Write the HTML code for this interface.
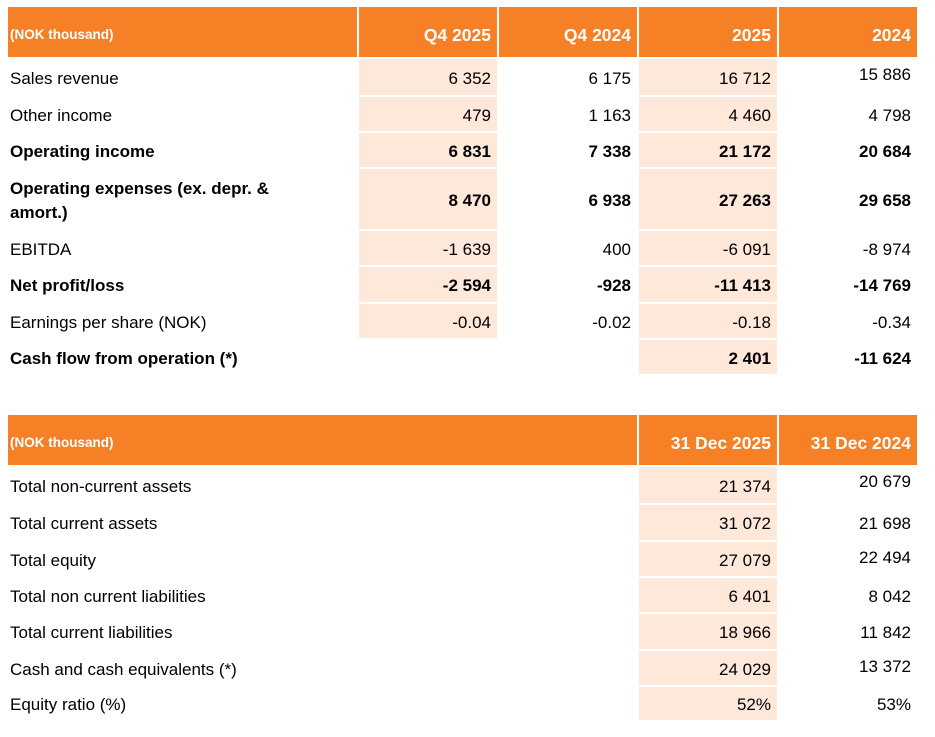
<!DOCTYPE html>
<html><head><meta charset="utf-8"><style>
body{margin:0;width:935px;height:737px;background:#fff;position:relative;font-family:"Liberation Sans",Arial,sans-serif;color:#000;overflow:hidden}
.c{position:absolute;box-sizing:border-box;display:flex;align-items:center;font-size:17px;line-height:20px;padding-top:3px}
.h{background:#F58025;color:#fff;font-weight:bold;font-size:17.5px;padding-top:6px}
.s{background:#FDE8DA}
.r{justify-content:flex-end;padding-right:6px}
.l{padding-left:2px}
.b{font-weight:bold}
</style></head><body>
<div class="c h l" style="left:8px;top:7px;width:349px;height:50px;font-size:13.5px">(NOK thousand)</div>
<div class="c h r" style="left:359px;top:7px;width:138px;height:50px">Q4 2025</div>
<div class="c h r" style="left:499px;top:7px;width:138px;height:50px">Q4 2024</div>
<div class="c h r" style="left:639px;top:7px;width:138px;height:50px">2025</div>
<div class="c h r" style="left:779px;top:7px;width:138px;height:50px">2024</div>

<div class="c l" style="left:8px;top:59px;width:349px;height:36px">Sales revenue</div>
<div class="c s r" style="left:359px;top:59px;width:138px;height:36px">6 352</div>
<div class="c r" style="left:499px;top:59px;width:138px;height:36px">6 175</div>
<div class="c s r" style="left:639px;top:59px;width:138px;height:36px">16 712</div>
<div class="c r" style="left:779px;top:55px;width:138px;height:36px">15 886</div>

<div class="c l" style="left:8px;top:97px;width:349px;height:34px">Other income</div>
<div class="c s r" style="left:359px;top:97px;width:138px;height:34px">479</div>
<div class="c r" style="left:499px;top:97px;width:138px;height:34px">1 163</div>
<div class="c s r" style="left:639px;top:97px;width:138px;height:34px">4 460</div>
<div class="c r" style="left:779px;top:97px;width:138px;height:34px">4 798</div>

<div class="c l b" style="left:8px;top:133px;width:349px;height:34px">Operating income</div>
<div class="c s r b" style="left:359px;top:133px;width:138px;height:34px">6 831</div>
<div class="c r b" style="left:499px;top:133px;width:138px;height:34px">7 338</div>
<div class="c s r b" style="left:639px;top:133px;width:138px;height:34px">21 172</div>
<div class="c r b" style="left:779px;top:133px;width:138px;height:34px">20 684</div>

<div class="c l b" style="left:8px;top:169px;width:320px;height:60px;line-height:24px">Operating expenses (ex. depr. &amp; amort.)</div>
<div class="c s r b" style="left:359px;top:169px;width:138px;height:60px">8 470</div>
<div class="c r b" style="left:499px;top:169px;width:138px;height:60px">6 938</div>
<div class="c s r b" style="left:639px;top:169px;width:138px;height:60px">27 263</div>
<div class="c r b" style="left:779px;top:169px;width:138px;height:60px">29 658</div>

<div class="c l" style="left:8px;top:231px;width:349px;height:34px">EBITDA</div>
<div class="c s r" style="left:359px;top:231px;width:138px;height:34px">-1 639</div>
<div class="c r" style="left:499px;top:231px;width:138px;height:34px">400</div>
<div class="c s r" style="left:639px;top:231px;width:138px;height:34px">-6 091</div>
<div class="c r" style="left:779px;top:231px;width:138px;height:34px">-8 974</div>

<div class="c l b" style="left:8px;top:267px;width:349px;height:35px">Net profit/loss</div>
<div class="c s r b" style="left:359px;top:267px;width:138px;height:35px">-2 594</div>
<div class="c r b" style="left:499px;top:267px;width:138px;height:35px">-928</div>
<div class="c s r b" style="left:639px;top:267px;width:138px;height:35px">-11 413</div>
<div class="c r b" style="left:779px;top:267px;width:138px;height:35px">-14 769</div>

<div class="c l" style="left:8px;top:304px;width:349px;height:34px">Earnings per share (NOK)</div>
<div class="c s r" style="left:359px;top:304px;width:138px;height:34px">-0.04</div>
<div class="c r" style="left:499px;top:304px;width:138px;height:34px">-0.02</div>
<div class="c s r" style="left:639px;top:304px;width:138px;height:34px">-0.18</div>
<div class="c r" style="left:779px;top:304px;width:138px;height:34px">-0.34</div>

<div class="c l b" style="left:8px;top:340px;width:349px;height:34px">Cash flow from operation (*)</div>
<div class="c s r b" style="left:639px;top:340px;width:138px;height:34px">2 401</div>
<div class="c r b" style="left:779px;top:340px;width:138px;height:34px">-11 624</div>

<div class="c h l" style="left:8px;top:415px;width:629px;height:50px;font-size:13.5px">(NOK thousand)</div>
<div class="c h r" style="left:639px;top:415px;width:138px;height:50px">31 Dec 2025</div>
<div class="c h r" style="left:779px;top:415px;width:138px;height:50px">31 Dec 2024</div>

<div class="c l" style="left:8px;top:467px;width:629px;height:36px">Total non-current assets</div>
<div class="c s r" style="left:639px;top:467px;width:138px;height:36px">21 374</div>
<div class="c r" style="left:779px;top:462px;width:138px;height:36px">20 679</div>

<div class="c l" style="left:8px;top:505px;width:629px;height:35px">Total current assets</div>
<div class="c s r" style="left:639px;top:505px;width:138px;height:35px">31 072</div>
<div class="c r" style="left:779px;top:505px;width:138px;height:35px">21 698</div>

<div class="c l" style="left:8px;top:542px;width:629px;height:34px">Total equity</div>
<div class="c s r" style="left:639px;top:542px;width:138px;height:34px">27 079</div>
<div class="c r" style="left:779px;top:539px;width:138px;height:34px">22 494</div>

<div class="c l" style="left:8px;top:578px;width:629px;height:34px">Total non current liabilities</div>
<div class="c s r" style="left:639px;top:578px;width:138px;height:34px">6 401</div>
<div class="c r" style="left:779px;top:578px;width:138px;height:34px">8 042</div>

<div class="c l" style="left:8px;top:614px;width:629px;height:35px">Total current liabilities</div>
<div class="c s r" style="left:639px;top:614px;width:138px;height:35px">18 966</div>
<div class="c r" style="left:779px;top:614px;width:138px;height:35px">11 842</div>

<div class="c l" style="left:8px;top:651px;width:629px;height:34px">Cash and cash equivalents (*)</div>
<div class="c s r" style="left:639px;top:651px;width:138px;height:34px">24 029</div>
<div class="c r" style="left:779px;top:648px;width:138px;height:34px">13 372</div>

<div class="c l" style="left:8px;top:687px;width:629px;height:33px">Equity ratio (%)</div>
<div class="c s r" style="left:639px;top:687px;width:138px;height:33px">52%</div>
<div class="c r" style="left:779px;top:687px;width:138px;height:33px">53%</div>
</body></html>
